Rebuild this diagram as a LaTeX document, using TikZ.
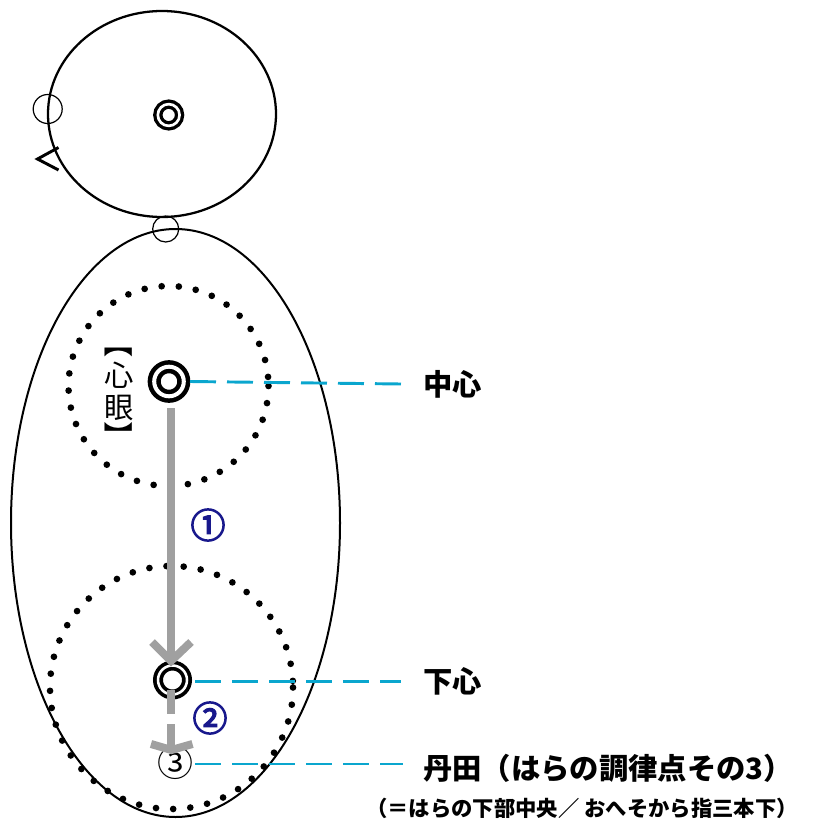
\documentclass[tikz,border=0pt]{standalone}
\usepackage{fontspec}
\setmainfont{Noto Sans CJK JP}
\newfontfamily\markfont{Noto Sans CJK JP}[FakeBold=4]
\usetikzlibrary{calc}
\definecolor{guide}{RGB}{10,166,206}
\definecolor{flow}{RGB}{160,160,160}
\definecolor{stepno}{RGB}{24,24,140}
\begin{document}
\begin{tikzpicture}[x=0.75pt,y=-0.75pt,
  outline/.style={draw=black,line width=1.7pt},
  thin/.style={circle,draw=black,line width=0.9pt,inner sep=0pt},
  dotring/.style={draw=black,line width=5pt,line cap=round,dash pattern=on 0pt off 12.9pt},
  ring/.style={circle,draw=black,double=white,inner sep=0pt},
  guideline/.style={draw=guide,line width=2.2pt,dash pattern=on 19.5pt off 8.25pt},
  flowline/.style={draw=flow,line width=6pt},
  label/.style={anchor=west,inner sep=0pt,font=\fontsize{22pt}{24pt}\selectfont\bfseries},
  stepmark/.style={text=stepno,inner sep=0pt,font=\fontsize{26pt}{28pt}\markfont},
  vchar/.style={inner sep=0pt,font=\fontsize{22pt}{24pt}\selectfont}]
\useasboundingbox (0,0) rectangle (820,824);

% head
\draw[outline] (162,114) ellipse [x radius=114, y radius=103];
\node[ring,line width=2.5pt,double distance=2pt,minimum size=16.3pt] (crown) at (168.7,115) {};
\node[thin,minimum size=21.75pt] (ear) at (47.7,109) {};
\draw[black,line width=2.2pt,line join=miter] (58.5,147.5) -- (37.5,159) -- (58.5,170);
\node[thin,minimum size=19.5pt] (neck) at (165.7,229) {};

% body
\draw[outline,line width=1.5pt] (175.5,523) ellipse [x radius=164.5, y radius=294];
\draw[dotring] (168.5,386) circle [radius=100];
\draw[dotring] (171.5,687.5) circle [radius=121.5];

% points
\node[ring,line width=3.4pt,double distance=3pt,minimum size=22.2pt] (eyeA) at (169,381.5) {};
\node[ring,line width=2.8pt,double distance=1.9pt,minimum size=21.75pt] (eyeB) at (172.5,680) {};
\node[inner sep=0pt,font=\fontsize{27pt}{29pt}\selectfont] (tanden) at (175,763) {③};

% 【心眼】 set vertically
\node[vchar,rotate=-90] (brA) at (119,343) {【};
\node[vchar] (chA) at (119,375) {心};
\node[vchar] (chB) at (119,408) {眼};
\node[vchar,rotate=-90] (brB) at (119,436) {】};

% movement arrows
\draw[flowline] ($(eyeA.center)+(2,26.5)$) -- ($(eyeB.center)+(-1.5,-19)$);
\draw[flowline,line join=miter] ($(eyeB.center)+(-20.5,-38)$) -- ($(eyeB.center)+(-1.5,-19)$) -- ($(eyeB.center)+(18.5,-38)$);
\draw[flowline,dash pattern=on 18pt off 7.5pt] ($(eyeB.center)+(-1.5,10)$) -- ($(tanden.center)+(-4,-15)$);
\draw[flowline,line join=miter] ($(tanden.center)+(-24,-19)$) -- ($(tanden.center)+(-3.5,-13)$) -- ($(tanden.center)+(17.5,-19)$);
\node[stepmark] (s1) at (208,525) {①};
\node[stepmark] (s2) at (210,718) {②};

% labels
\node[label] (lblA) at (423,384) {中心};
\node[label] (lblB) at (423,681) {下心};
\node[label] (lblC) at (423,768) {丹田（はらの調律点その3）};
\node[anchor=west,inner sep=0pt,font=\fontsize{16pt}{18pt}\selectfont\bfseries] (note) at (366,808) {（＝はらの下部中央／ おへそから指三本下）};

\coordinate (endA) at (401,384);
\coordinate (endB) at (401,681.5);
\coordinate (endC) at (403,764);
\draw[guideline] (eyeA.center -| 190,0) -- (endA);
\draw[guideline] (195,681.5) -- (endB);
\draw[guideline] (195,764) -- (endC);
\end{tikzpicture}
\end{document}
